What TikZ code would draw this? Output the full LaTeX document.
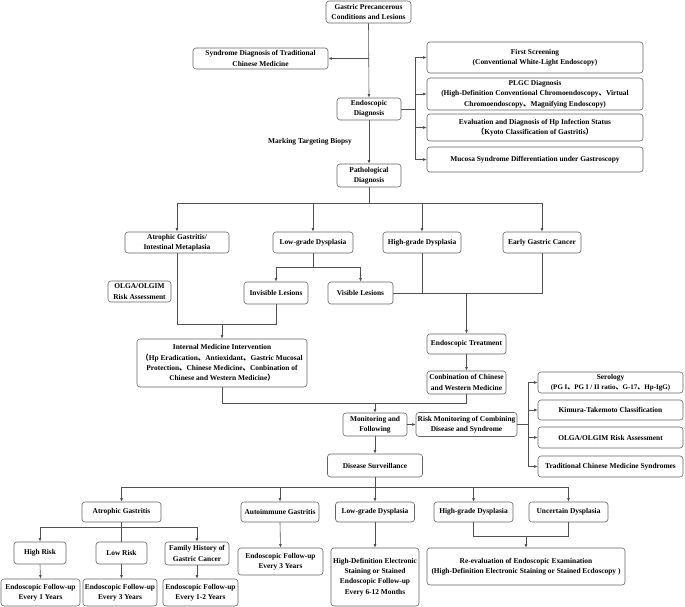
\documentclass[tikz,border=0pt]{standalone}
\usepackage{fontspec}
\setmainfont{Liberation Serif}
\newfontfamily\cjkfont{Noto Sans CJK SC}
\usetikzlibrary{arrows.meta}
\definecolor{LineGray}{RGB}{80,80,80}
\definecolor{BoxGray}{RGB}{100,100,100}
\newcommand{\dun}{{\cjkfont 、}}
\newcommand{\lpar}{{\cjkfont （}}
\newcommand{\rpar}{{\cjkfont ）}}

\begin{document}
\begin{tikzpicture}[
    x=1pt, y=-1pt,
    box/.style={draw=BoxGray, rounded corners=3pt, line width=0.6pt, fill=white, align=center, inner sep=1pt, font=\fontsize{7.4}{10.3}\selectfont\bfseries},
    arr/.style={-{Latex[length=3.5pt,width=2.8pt]}, draw=LineGray, line width=0.6pt},
    line/.style={draw=LineGray, line width=0.6pt},
    note/.style={font=\fontsize{7.4}{10.3}\selectfont\bfseries, align=center}
]
\useasboundingbox (0,0) rectangle (685,607);

%% ---- DIAGNOSIS (top) ----
\node[box, minimum width=85, minimum height=22]  (top)    at (368.5, 12)   {Gastric Precancerous\\Conditions and Lesions};
\node[box, minimum width=135, minimum height=21] (tcm)    at (260.5, 58.5) {Syndrome Diagnosis of Traditional\\Chinese Medicine};
\node[box, minimum width=64, minimum height=22]  (endo)   at (369, 109)    {Endoscopic\\Diagnosis};
\node[box, minimum width=216, minimum height=31] (screen) at (535, 57.5)   {First Screening\\(Conventional White-Light Endoscopy)};
\node[box, minimum width=216, minimum height=32] (plgc)   at (535, 94)     {PLGC Diagnosis\\(High-Definition Conventional Chromoendoscopy\dun Virtual\\Chromoendoscopy\dun Magnifying Endoscopy)};
\node[box, minimum width=216, minimum height=27] (hpinf)  at (535, 127.5)  {Evaluation and Diagnosis of Hp Infection Status\\\lpar Kyoto Classification of Gastritis\rpar};
\node[box, minimum width=216, minimum height=25] (mucosa) at (535, 159.5)  {Mucosa Syndrome Differentiation under Gastroscopy};
\node[note] (biopsy) at (310, 142) {Marking Targeting Biopsy};
\node[box, minimum width=64, minimum height=23]  (patho)  at (369, 175.5)  {Pathological\\Diagnosis};

%% ---- ARROWS diagnosis ----
\coordinate (tj) at (369, 58.5);
\draw[arr] (top.south) -- (endo.north);
\draw[arr] (tj) -- (tcm.east);
\coordinate (eb) at (415, 109);
\draw[line] (endo.east) -- (eb);
\draw[arr] (eb) |- (screen.west);
\draw[arr] (eb) |- (plgc.west);
\draw[arr] (eb) |- (hpinf.west);
\draw[arr] (eb) |- (mucosa.west);
\draw[arr] (endo.south) -- (patho.north);

%% ---- PATHOLOGY ----
\node[box, minimum width=104, minimum height=21] (agim)  at (177, 242.5)   {Atrophic Gastritis/\\Intestinal Metaplasia};
\node[box, minimum width=80, minimum height=21]  (lgd)   at (313, 242.5)   {Low-grade Dysplasia};
\node[box, minimum width=78, minimum height=21]  (hgd)   at (422, 242.5)   {High-grade Dysplasia};
\node[box, minimum width=78, minimum height=21]  (egc)   at (542, 242.5)   {Early Gastric Cancer};
\node[box, minimum width=63, minimum height=21]  (olga)  at (139.5, 291.5) {OLGA/OLGIM\\Risk Assessment};
\node[box, minimum width=64, minimum height=22]  (invis) at (276, 293)     {Invisible Lesions};
\node[box, minimum width=65, minimum height=22]  (vis)   at (360.5, 293)   {Visible Lesions};

\coordinate (pj) at (369, 203);
\draw[line] (patho.south) -- (pj);
\draw[arr] (pj) -| (agim.north);
\draw[arr] (pj) -| (lgd.north);
\draw[arr] (pj) -| (hgd.north);
\draw[arr] (pj) -| (egc.north);
\coordinate (lj) at (313, 267);
\draw[line] (lgd.south) -- (lj);
\draw[arr] (lj) -| (invis.north);
\draw[arr] (lj) -| (vis.north);

%% ---- TREATMENT ----
\node[box, minimum width=170, minimum height=48] (imi)    at (222, 363)     {Internal Medicine Intervention\\\lpar Hp Eradication\dun Antioxidant\dun Gastric Mucosal\\Protection\dun Chinese Medicine\dun Conbination of\\Chinese and Western Medicine\rpar};
\node[box, minimum width=79, minimum height=20]  (etreat) at (466.5, 344)   {Endoscopic Treatment};
\node[box, minimum width=79, minimum height=23]  (cwm)    at (466.5, 382.5) {Conbination of Chinese\\and Western Medicine};

\coordinate (ij) at (222, 324);
\draw[line] (agim.south) |- (ij);
\draw[line] (invis.south) |- (ij);
\draw[arr] (ij) -- (imi.north);
\coordinate (vj) at (466.5, 293);
\draw[line] (vis.east) -| (egc.south);
\draw[line] (hgd.south) -- (hgd.south |- vis.east);
\draw[arr] (vj) -- (etreat.north);
\draw[arr] (etreat.south) -- (cwm.north);

%% ---- MONITORING ----
\node[box, minimum width=64, minimum height=23]  (monitor) at (375, 424.5)   {Monitoring and\\Following};
\node[box, minimum width=101, minimum height=24] (risk)    at (466.5, 424.5) {Risk Monitoring of Combining\\Disease and Syndrome};
\node[box, minimum width=145, minimum height=21] (sero)    at (610.5, 382.5) {Serology\\{\fontsize{7}{8.5}\selectfont (PG I\dun PG I / II ratio\dun G-17\dun Hp-IgG)}};
\node[box, minimum width=145, minimum height=20] (kimura)  at (610.5, 410)   {Kimura-Takemoto Classification};
\node[box, minimum width=145, minimum height=21] (olgarisk) at (610.5, 437.5) {OLGA/OLGIM Risk Assessment};
\node[box, minimum width=145, minimum height=21] (tcms)    at (610.5, 466.5) {Traditional Chinese Medicine Syndromes};
\node[box, minimum width=95, minimum height=23]  (surv)    at (375, 465.5)   {Disease Surveillance};

\coordinate (mj) at (375, 403);
\draw[line] (imi.south) |- (mj);
\draw[line] (cwm.south) |- (mj);
\draw[arr] (mj) -- (monitor.north);
\draw[arr] (monitor.east) -- (risk.west);
\coordinate (rb) at (528, 424.5);
\draw[line] (risk.east) -- (rb);
\draw[arr] (rb) |- (sero.west);
\draw[arr] (rb) |- (kimura.west);
\draw[arr] (rb) |- (olgarisk.west);
\draw[arr] (rb) |- (tcms.west);
\draw[arr] (monitor.south) -- (surv.north);

%% ---- SURVEILLANCE (bottom) ----
\node[box, minimum width=79, minimum height=20] (ag)    at (121.5, 512) {Atrophic Gastritis};
\node[box, minimum width=78, minimum height=20] (aig)   at (280, 512)   {Autoimmune Gastritis};
\node[box, minimum width=79, minimum height=20] (lgdb)  at (375, 512)   {Low-grade Dysplasia};
\node[box, minimum width=79, minimum height=20] (hgdb)  at (473.5, 512) {High-grade Dysplasia};
\node[box, minimum width=79, minimum height=20] (ud)    at (568.5, 512) {Uncertain Dysplasia};
\node[box, minimum width=52, minimum height=22] (high)  at (40, 553)    {High Risk};
\node[box, minimum width=51, minimum height=22] (low)   at (121.5, 553) {Low Risk};
\node[box, minimum width=64, minimum height=23] (fam)   at (197, 553.5) {Family History of\\Gastric Cancer};
\node[box, minimum width=79, minimum height=27] (fone)  at (40.5, 592.5)  {Endoscopic Follow-up\\Every 1 Years};
\node[box, minimum width=74, minimum height=27] (fthree) at (120, 592.5)  {Endoscopic Follow-up\\Every 3 Years};
\node[box, minimum width=75, minimum height=27] (ftwo)  at (200.5, 592.5) {Endoscopic Follow-up\\Every 1-2 Years};
\node[box, minimum width=85, minimum height=27] (aigf)  at (280.5, 561.5) {Endoscopic Follow-up\\Every 3 Years};
\node[box, minimum width=88, minimum height=58] (hdf)   at (375, 577)     {High-Definition Electronic\\Staining or Stained\\Endoscopic Follow-up\\Every 6-12 Months};
\node[box, minimum width=198, minimum height=37] (reeval) at (526, 566.5) {Re-evaluation of Endoscopic Examination\\(High-Definition Electronic Staining or Stained Ecdoscopy )};

\coordinate (sj) at (375, 487);
\draw[line] (surv.south) -- (sj);
\draw[arr] (sj) -| (ag.north);
\draw[arr] (sj) -| (aig.north);
\draw[arr] (sj) -- (lgdb.north);
\draw[arr] (sj) -| (hgdb.north);
\draw[arr] (sj) -| (ud.north);
\coordinate (aj) at (121.5, 527);
\draw[line] (ag.south) -- (aj);
\draw[arr] (aj) -| (high.north);
\draw[line] (aj) -- (low.north);
\draw[arr] (aj) -| (fam.north);
\draw[arr] (high.south) -- (fone.north);
\draw[arr] (low.south) -- (low.south |- fthree.north);
\draw[arr] (fam.south) -- (fam.south |- ftwo.north);
\draw[arr] (aig.south) -- (aigf.north);
\draw[arr] (lgdb.south) -- (hdf.north);
\coordinate (rj) at (526, 536);
\draw[line] (hgdb.south) |- (rj);
\draw[line] (ud.south) |- (rj);
\draw[arr] (rj) -- (reeval.north);

\end{tikzpicture}
\end{document}
